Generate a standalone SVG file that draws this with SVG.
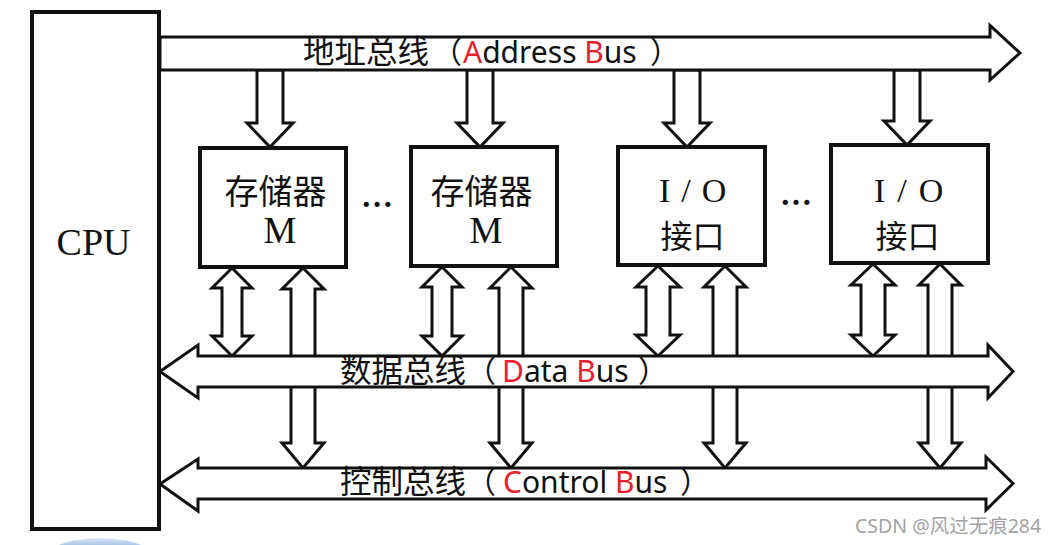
<svg xmlns="http://www.w3.org/2000/svg" width="1057" height="545" viewBox="0 0 1057 545">
<defs>
<style>
.box{fill:#fff;stroke:#111;stroke-width:4}
.arr{fill:#fff;stroke:#111;stroke-width:3;stroke-linejoin:miter}
.bus{fill:#fff;stroke:#111;stroke-width:3;stroke-linejoin:miter}
.serif{font-family:"Liberation Serif","Noto Sans CJK SC",serif;fill:#111}
.cjk{font-family:"Noto Sans CJK SC",sans-serif;fill:#111}
.lbl{font-family:"Noto Sans","Noto Sans CJK SC",sans-serif;font-size:30px;fill:#111}
.zh{font-size:31.5px}
.red{fill:#e8202e}
</style>
<linearGradient id="blue" x1="0" y1="0" x2="0" y2="1">
<stop offset="0" stop-color="#d7e6f5"/>
<stop offset="0.3" stop-color="#5d8fcf"/>
<stop offset="1" stop-color="#9fc0e6"/>
</linearGradient>
</defs>
<rect width="1057" height="545" fill="#fff"/>

<g id="connectors">
<polygon class="arr" points="257,70 257,123 247,123 270,147 293,123 283,123 283,70"/>
<polygon class="arr" points="467,70 467,123 457,123 480,147 503,123 493,123 493,70"/>
<polygon class="arr" points="674,70 674,123 664,123 687,147 710,123 700,123 700,70"/>
<polygon class="arr" points="894,70 894,121 884,121 907,145 930,121 920,121 920,70"/>
<polygon class="arr" points="303,268 324,289 315,289 315,443 324,443 303,468 282,443 291,443 291,289 282,289"/>
<polygon class="arr" points="511,267 532,288 523,288 523,443 532,443 511,468 490,443 499,443 499,288 490,288"/>
<polygon class="arr" points="725,266 746,287 737,287 737,443 746,443 725,468 704,443 713,443 713,287 704,287"/>
<polygon class="arr" points="940,264 961,285 952,285 952,443 961,443 940,468 919,443 928,443 928,285 919,285"/>
<polygon class="arr" points="232,268 252,288 242,288 242,336 252,336 232,356 212,336 222,336 222,288 212,288"/>
<polygon class="arr" points="442,267 462,287 452,287 452,336 462,336 442,356 422,336 432,336 432,287 422,287"/>
<polygon class="arr" points="658,266 680,287 670,287 670,335 680,335 658,356 636,335 646,335 646,287 636,287"/>
<polygon class="arr" points="873,264 895,285 885,285 885,335 895,335 873,356 851,335 861,335 861,285 851,285"/>
<polygon id="address-bus" class="bus" points="160,37 990,37 990,25.5 1020,53 990,80 990,70 160,70"/>
<polygon id="data-bus" class="bus" points="160,371.5 198,345 198,356 988,356 988,345 1013,371.5 988,398 988,387 198,387 198,398"/>
<polygon id="control-bus" class="bus" points="160,484 198,459 198,468 986,468 986,457 1013,483.5 986,510 986,499 198,499 198,511"/>
</g>

<g id="cpu">
<rect class="box" x="32" y="12" width="127" height="517"/>
<text class="serif" x="93.5" y="255" font-size="38" text-anchor="middle">CPU</text>
</g>

<g id="mem1">
<rect class="box" x="200" y="148" width="146" height="119"/>
<text class="cjk" x="275.5" y="204" font-size="34" text-anchor="middle">存储器</text>
<text class="serif" x="280" y="243" font-size="37" text-anchor="middle">M</text>
</g>
<g id="mem2">
<rect class="box" x="411" y="147" width="146" height="119"/>
<text class="cjk" x="481.5" y="204" font-size="34" text-anchor="middle">存储器</text>
<text class="serif" x="486" y="243" font-size="37" text-anchor="middle">M</text>
</g>
<g id="io1">
<rect class="box" x="618" y="147" width="147" height="118"/>
<text class="serif" x="659" y="202" font-size="34" letter-spacing="11">I/O</text>
<text class="cjk" x="692.5" y="248" font-size="32" text-anchor="middle">接口</text>
</g>
<g id="io2">
<rect class="box" x="831" y="145" width="157" height="118"/>
<text class="serif" x="874" y="202" font-size="34" letter-spacing="12">I/O</text>
<text class="cjk" x="907.5" y="248" font-size="32" text-anchor="middle">接口</text>
</g>

<g id="dots">
<text class="serif" x="377" y="207" font-size="32" font-weight="bold" text-anchor="middle">…</text>
<text class="serif" x="796" y="205" font-size="32" font-weight="bold" text-anchor="middle">…</text>
</g>

<g id="bus-labels">
<text class="lbl" y="63"><tspan x="303" class="zh">地址总线</tspan><tspan x="432">（</tspan><tspan x="463" class="red">A</tspan><tspan>ddress </tspan><tspan class="red">B</tspan><tspan>us</tspan><tspan x="650">）</tspan></text>
<text class="lbl" y="382"><tspan x="340" class="zh">数据总线</tspan><tspan x="466">（</tspan><tspan x="502" class="red">D</tspan><tspan>ata </tspan><tspan class="red">B</tspan><tspan>us</tspan><tspan x="638">）</tspan></text>
<text class="lbl" y="493"><tspan x="340" class="zh">控制总线</tspan><tspan x="466">（</tspan><tspan x="503" class="red">C</tspan><tspan>ontrol </tspan><tspan class="red">B</tspan><tspan>us</tspan><tspan x="680">）</tspan></text>
</g>

<ellipse cx="100" cy="572" rx="68" ry="34" fill="url(#blue)"/>
<text x="855" y="533" font-family="Noto Sans, Noto Sans CJK SC, sans-serif" font-size="19.5" fill="#a3a3a3">CSDN @风过无痕284</text>
</svg>
